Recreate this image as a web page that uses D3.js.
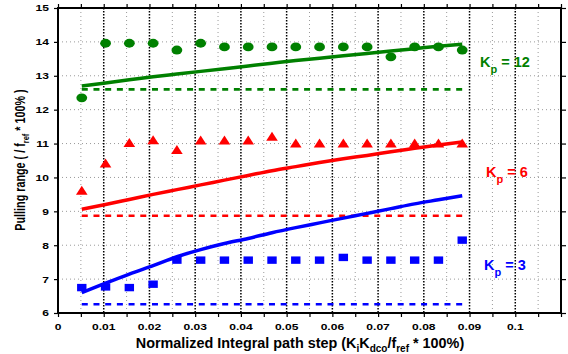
<!DOCTYPE html>
<html>
<head>
<meta charset="utf-8">
<script src="https://cdn.jsdelivr.net/npm/d3@7"></script>
<style>
  body { margin: 0; background: #fff; }
  svg text { font-family: "Liberation Sans", Arial, Helvetica, sans-serif; font-weight: bold; white-space: pre; }
</style>
</head>
<body>
<svg id="chart" width="568" height="354"></svg>
<script>
// x positions of the measurements (normalized integral path step)
var xSteps = [0.0052, 0.0104, 0.0156, 0.0208, 0.026, 0.0312, 0.0364, 0.0416, 0.0468,
              0.052, 0.0572, 0.0624, 0.0676, 0.0728, 0.078, 0.0832, 0.0884];

// measured pulling range (markers)
var kp12Meas = [12.35, 13.96, 13.96, 13.96, 13.76, 13.96, 13.85, 13.85, 13.85,
                13.85, 13.85, 13.85, 13.85, 13.56, 13.85, 13.85, 13.76];
var kp6Meas  = [9.58, 10.38, 10.99, 11.07, 10.78, 11.06, 11.06, 11.06, 11.17,
                10.97, 10.97, 10.97, 10.97, 10.97, 10.97, 10.97, 10.97];
var kp3Meas  = [6.75, 6.77, 6.75, 6.85, 7.56, 7.56, 7.56, 7.56, 7.56,
                7.56, 7.56, 7.64, 7.56, 7.56, 7.56, 7.56, 8.15];

// model curves (solid)
var kp12Fit = [12.70, 12.79, 12.88, 12.97, 13.05, 13.13, 13.21, 13.29, 13.37,
               13.45, 13.52, 13.59, 13.66, 13.73, 13.80, 13.87, 13.93];
var kp6Fit  = [9.06, 9.20, 9.35, 9.50, 9.64, 9.78, 9.92, 10.06, 10.20,
               10.32, 10.44, 10.55, 10.65, 10.76, 10.86, 10.96, 11.05];
var kp3Fit  = [6.60, 6.88, 7.15, 7.40, 7.66, 7.87, 8.05, 8.20, 8.37,
               8.52, 8.66, 8.80, 8.94, 9.08, 9.22, 9.34, 9.46];

// lower bound (dashed)
var kp12Base = 12.60, kp6Base = 8.87, kp3Base = 6.26;

var xTicks = [0, 0.01, 0.02, 0.03, 0.04, 0.05, 0.06, 0.07, 0.08, 0.09, 0.1];
var yTicks = [6, 7, 8, 9, 10, 11, 12, 13, 14, 15];

var svg = d3.select("#chart");
var pLeft = 58, pRight = 561, pTop = 8, pBottom = 313;
var sx = 1.27; // horizontal stretch of the original figure's small texts

var x = d3.scaleLinear().domain([0, 0.11]).range([pLeft, pRight]);
var y = d3.scaleLinear().domain([6, 15]).range([pBottom, pTop]);

// grid lines
var minorX = d3.range(1, 22, 2).map(function (k) { return k * 0.005; });
svg.append("g").selectAll("line").data(yTicks.slice(1, -1)).enter().append("line")
  .attr("x1", pLeft).attr("x2", pRight)
  .attr("y1", function (d) { return y(d); }).attr("y2", function (d) { return y(d); })
  .attr("stroke", "#9a9a9a").attr("stroke-width", 1).attr("stroke-dasharray", "1,3");
svg.append("g").selectAll("line").data(minorX).enter().append("line")
  .attr("x1", function (d) { return x(d); }).attr("x2", function (d) { return x(d); })
  .attr("y1", pTop).attr("y2", pBottom)
  .attr("stroke", "#9a9a9a").attr("stroke-width", 1).attr("stroke-dasharray", "1,3");
svg.append("g").selectAll("line").data(xTicks.slice(1)).enter().append("line")
  .attr("x1", function (d) { return x(d); }).attr("x2", function (d) { return x(d); })
  .attr("y1", pTop).attr("y2", pBottom)
  .attr("stroke", "#000").attr("stroke-width", 1.5).attr("stroke-dasharray", "1.5,1.5");

// axes with outward ticks
var allX = d3.range(0, 23).map(function (k) { return k * 0.005; });
svg.append("g").attr("transform", "translate(0," + pBottom + ")")
  .call(d3.axisBottom(x).tickValues(allX).tickSize(4).tickFormat(""));
svg.append("g").attr("transform", "translate(0," + pTop + ")")
  .call(d3.axisTop(x).tickValues(allX).tickSize(4).tickFormat(""));
svg.append("g").attr("transform", "translate(" + pLeft + ",0)")
  .call(d3.axisLeft(y).tickValues(yTicks).tickSize(4).tickFormat(""));
svg.append("g").attr("transform", "translate(" + pRight + ",0)")
  .call(d3.axisRight(y).tickValues(yTicks).tickSize(5).tickFormat(""));
svg.selectAll(".domain").remove();
svg.selectAll(".tick line").attr("stroke", "#000").attr("stroke-width", 1.2);

svg.append("rect").attr("x", pLeft).attr("y", pTop)
  .attr("width", pRight - pLeft).attr("height", pBottom - pTop)
  .attr("fill", "none").attr("stroke", "#000").attr("stroke-width", 2);

// tick labels
svg.append("g").selectAll("text").data(xTicks).enter().append("text")
  .attr("transform", function (d) { return "translate(" + x(d) + ",330) scale(" + sx + ",1)"; })
  .attr("text-anchor", "middle").attr("font-size", 9.5)
  .text(function (d) { return d === 0 ? "0" : String(+d.toFixed(2)); });
svg.append("g").selectAll("text").data(yTicks).enter().append("text")
  .attr("transform", function (d) { return "translate(49," + (y(d) + 3.4) + ") scale(" + sx + ",1)"; })
  .attr("text-anchor", "end").attr("font-size", 9.5)
  .text(function (d) { return d; });

// axis titles
var xl = svg.append("text").attr("x", 300).attr("y", 348).attr("text-anchor", "middle")
  .attr("font-size", 14.4);
xl.append("tspan").text("Normalized Integral path step (K");
xl.append("tspan").attr("font-size", 10).attr("dy", 4).text("i");
xl.append("tspan").attr("dy", -4).text("K");
xl.append("tspan").attr("font-size", 10).attr("dy", 4).text("dco");
xl.append("tspan").attr("dy", -4).text("/f");
xl.append("tspan").attr("font-size", 10).attr("dy", 4).text("ref");
xl.append("tspan").attr("dy", -4).text(" * 100%)");

var yl = svg.append("g").attr("transform", "translate(25,160) scale(" + sx + ",1) rotate(-90)")
  .append("text").attr("text-anchor", "middle").attr("font-size", 10.8);
yl.append("tspan").text("Pulling range ( / f");
yl.append("tspan").attr("font-size", 7.5).attr("dy", 3).text("ref");
yl.append("tspan").attr("dy", -3).text(" * 100% )");

// series
var series = [
  { color: "#008000", meas: kp12Meas, fit: kp12Fit, base: kp12Base, shape: "circle",
    label: "12", lx: 480, ly: 67 },
  { color: "#ff0000", meas: kp6Meas, fit: kp6Fit, base: kp6Base, shape: "triangle",
    label: "6", lx: 486, ly: 177 },
  { color: "#0000ff", meas: kp3Meas, fit: kp3Fit, base: kp3Base, shape: "square",
    label: "3", lx: 484, ly: 270 }
];

var line = d3.line()
  .x(function (d) { return x(d[0]); })
  .y(function (d) { return y(d[1]); })
  .curve(d3.curveMonotoneX);

series.forEach(function (s) {
  var g = svg.append("g");
  g.append("path")
    .attr("d", line([[xSteps[0], s.base], [xSteps[xSteps.length - 1], s.base]]))
    .attr("fill", "none").attr("stroke", s.color).attr("stroke-width", 2.6)
    .attr("stroke-dasharray", "6,5.7");
  g.append("path")
    .attr("d", line(xSteps.map(function (v, i) { return [v, s.fit[i]]; })))
    .attr("fill", "none").attr("stroke", s.color).attr("stroke-width", 3.5);

  var pts = g.selectAll(".pt").data(xSteps.map(function (v, i) { return [v, s.meas[i]]; }))
    .enter();
  if (s.shape === "circle") {
    pts.append("ellipse")
      .attr("cx", function (d) { return x(d[0]); }).attr("cy", function (d) { return y(d[1]); })
      .attr("rx", 5.4).attr("ry", 4.4).attr("fill", s.color);
  } else if (s.shape === "triangle") {
    pts.append("path")
      .attr("transform", function (d) { return "translate(" + x(d[0]) + "," + y(d[1]) + ")"; })
      .attr("d", "M0,-6L5.8,3L-5.8,3Z").attr("fill", s.color);
  } else {
    pts.append("rect")
      .attr("x", function (d) { return x(d[0]) - 4.7; }).attr("y", function (d) { return y(d[1]) - 3.7; })
      .attr("width", 9.4).attr("height", 7.4).attr("fill", s.color);
  }

  var t = g.append("text").attr("x", s.lx).attr("y", s.ly)
    .attr("font-size", 14.5).attr("fill", s.color);
  t.append("tspan").text("K");
  t.append("tspan").attr("font-size", 11).attr("dy", 6).text("p");
  t.append("tspan").attr("dy", -6).text(" = " + s.label);
});
</script>
</body>
</html>
